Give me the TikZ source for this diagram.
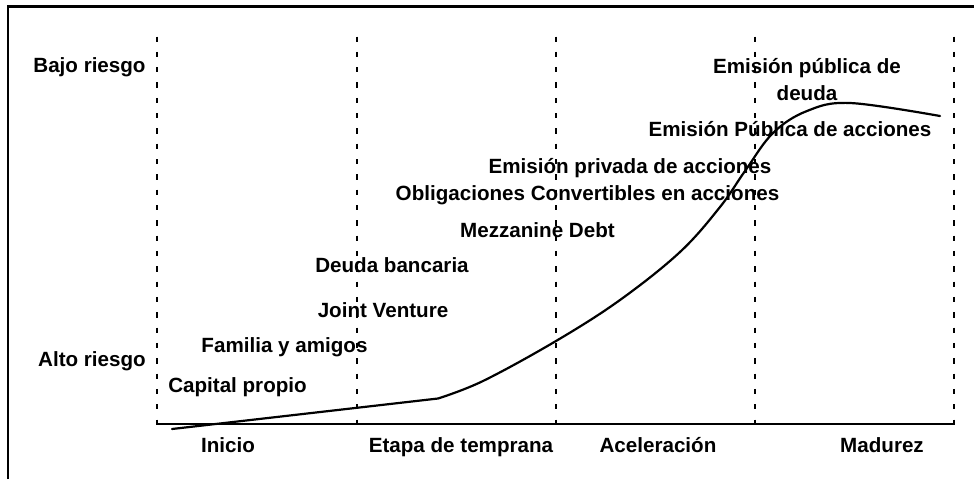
\documentclass[tikz,border=0pt]{standalone}
\usepackage{fontspec}
\setmainfont{Liberation Sans}
\begin{document}
\begin{tikzpicture}[x=1pt,y=-1pt,
  lbl/.style={font=\fontsize{20.6}{27}\selectfont\bfseries, inner sep=0pt, anchor=base, align=center},
  guide/.style={line width=2.7pt, dash pattern=on 5.3pt off 10.02pt},
  axisline/.style={line width=2.2pt},
  framel/.style={line width=2.5pt},
  curve/.style={line width=2.2pt, line join=round, line cap=round}]
\useasboundingbox (0,0) rectangle (974,479);
% frame (left and top edges)
\coordinate (fbl) at (8,479);
\coordinate (ftl) at (8,6.5);
\coordinate (ftr) at (974,6.5);
\draw[framel] (fbl) -- (ftl) -- (ftr);
% axis
\coordinate (ax0) at (156,424);
\coordinate (ax1) at (955,424);
\draw[axisline] (ax0) -- (ax1);
% dotted stage separators
\foreach \i/\x in {1/157,2/357,3/556,4/755,5/954}{
  \coordinate (gt\i) at (\x,36.5);
  \coordinate (gb\i) at (\x,424);
  \draw[guide] (gt\i) -- (gb\i);
}
% risk labels
\node[lbl] (bajo) at (89.5,72) {Bajo riesgo};
\node[lbl] (alto) at (92,366) {Alto riesgo};
% financing sources
\node[lbl] (cap) at (237.5,392) {Capital propio};
\node[lbl] (fam) at (284.5,352) {Familia y amigos};
\node[lbl] (jv) at (383,317) {Joint Venture};
\node[lbl] (deu) at (392,272) {Deuda bancaria};
\node[lbl] (mez) at (537.5,237) {Mezzanine Debt};
\node[lbl] (obl) at (587.5,200.5) {Obligaciones Convertibles en acciones};
\node[lbl] (epriv) at (630,173) {Emisión privada de acciones};
\node[lbl] (epub) at (790,136) {Emisión Pública de acciones};
\node[lbl] (edeu) at (807,100) {Emisión pública de\\deuda};
% stages
\node[lbl] (s1) at (228,452) {Inicio};
\node[lbl] (s2) at (461,452) {Etapa de temprana};
\node[lbl] (s3) at (658,452) {Aceleración};
\node[lbl] (s4) at (882,452) {Madurez};
% growth curve
\coordinate (c0) at (172,429);
\coordinate (c1) at (438,398.5);
\draw[curve] (c0) -- (c1) -- plot[smooth, tension=0.6] coordinates {
  (438,398.5) (483,381) (556,341) (620,300) (680,252) (720,207)
  (745,171) (773,133) (807,111) (850,103) (940,116)};
\end{tikzpicture}
\end{document}
